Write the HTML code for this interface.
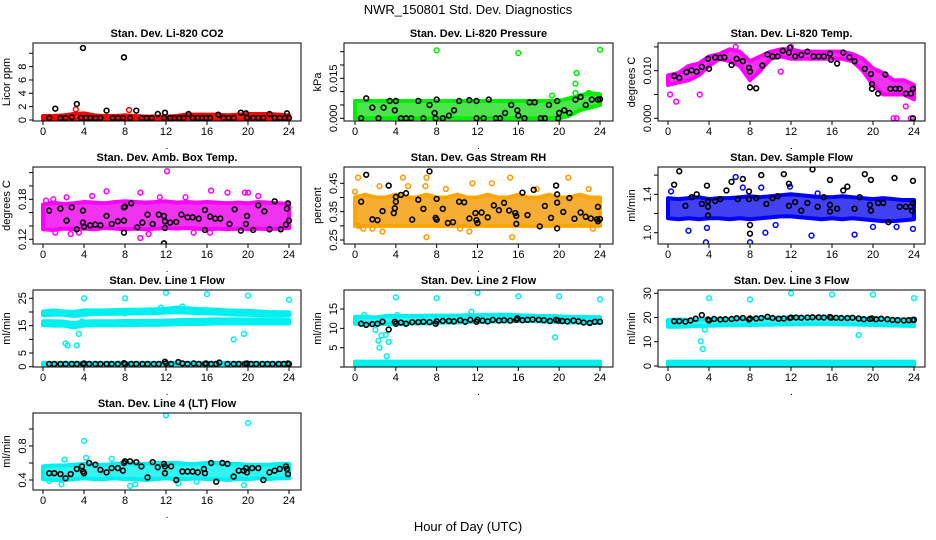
<!DOCTYPE html>
<html><head><meta charset="utf-8"><style>
html,body{margin:0;padding:0;background:#fff}
svg{display:block;font-family:"Liberation Sans",sans-serif}
</style></head><body>
<svg id="chart" width="936" height="540" viewBox="0 0 936 540" xmlns="http://www.w3.org/2000/svg">
<rect width="936" height="540" fill="#fff"/>
<text x="468" y="14" text-anchor="middle" font-size="13">NWR_150801  Std. Dev. Diagnostics</text>
<text x="468" y="531" text-anchor="middle" font-size="13">Hour of Day (UTC)</text>
</svg>
<script>
const bandHours=[0,1,2,3,4,5,6,7,8,9,10,11,12,13,14,15,16,17,18,19,20,21,22,23,24];
const xTicks=[0,4,8,12,16,20,24];
// CO2
const co2Lo=[0.1,0.1,0.1,0.1,0.1,0.1,0.1,0.1,0.1,0.1,0.1,0.1,0.1,0.1,0.1,0.1,0.1,0.1,0.1,0.1,0.1,0.1,0.1,0.1,0.1];
const co2Hi=[0.6,0.6,0.7,0.9,1.0,0.7,0.6,0.6,0.7,0.6,0.5,0.5,0.5,0.6,0.8,0.8,0.8,0.8,0.7,0.8,0.9,0.9,0.9,0.8,0.7];
const co2Out=[[8.4,1.5],[3.2,1.6]];
const co2Black=[[1.2,1.7],[3.3,2.4],[3.9,10.8],[7.9,9.4],[6.2,1.4],[9.1,1.4],[11.9,1.1],[11.2,0.9],[14.2,0.9],[17.1,0.8],[19.3,1.1],[19.8,1.0],[22.1,0.9],[23.8,1.0],[0.6,0.3],[1.7,0.3],[2.2,0.3],[2.8,0.4],[3.7,0.3],[4.2,0.3],[4.6,0.3],[5.1,0.3],[5.6,0.3],[6.8,0.3],[7.3,0.3],[7.8,0.3],[8.5,0.3],[9.6,0.3],[10.1,0.3],[10.6,0.3],[11.8,0.3],[12.4,0.3],[12.8,0.3],[13.3,0.3],[13.7,0.3],[14.6,0.3],[15.1,0.3],[15.5,0.3],[15.9,0.3],[16.3,0.3],[17.6,0.3],[18.1,0.3],[18.6,0.3],[19.9,0.3],[20.5,0.3],[21.0,0.3],[21.5,0.3],[22.6,0.3],[23.1,0.3],[23.6,0.3],[24.0,0.3]];
// Pressure
const prLo=[0,0,0,0,0,0,0,0,0,0,0,0,0,0,0,0,0,0,0,0,0,0.001,0.003,0.004,0.005];
const prHi=[0.0065,0.0065,0.0065,0.0065,0.0065,0.0065,0.0065,0.0065,0.0065,0.0065,0.0065,0.0065,0.0065,0.0065,0.0065,0.0065,0.0065,0.0065,0.0065,0.0065,0.0065,0.0075,0.0085,0.0095,0.009];
const prOut=[[8,0.0255],[16,0.0245],[24,0.0257],[21.7,0.017],[21.6,0.013],[21.6,0.0095],[19.3,0.0085],[22.9,0.0095]];
const prBlack=[[0.6,0],[1.1,0.0075],[1.7,0.004],[2.3,0],[2.8,0.004],[3.4,0.0065],[3.9,0.003],[4.0,0.0065],[4.5,0],[5.0,0],[5.5,0],[6.2,0.0065],[6.7,0],[7.3,0.005],[7.8,0.002],[7.9,0],[8.0,0.007],[8.6,0],[9.2,0.001],[9.7,0.003],[10.2,0.0065],[11.2,0.0068],[11.9,0.0065],[11.9,0],[12.6,0],[13.1,0.007],[13.8,0],[14.2,0],[14.7,0.002],[15.3,0.005],[15.9,0.003],[16.0,0.001],[16.6,0],[17.1,0.006],[17.6,0.006],[18.2,0],[18.6,0],[19.0,0.005],[19.8,0.0065],[19.9,0],[20.0,0.002],[20.5,0.003],[21.0,0.002],[21.6,0.007],[22.1,0.008],[22.6,0.005],[23.2,0.007],[23.8,0.007],[24.0,0.0072]];
// Li-820 temp
const ltLo=[0.007,0.0075,0.008,0.009,0.011,0.0125,0.012,0.011,0.008,0.010,0.0125,0.013,0.0125,0.0125,0.0125,0.0125,0.0125,0.0125,0.012,0.010,0.007,0.005,0.005,0.005,0.004];
const ltHi=[0.009,0.0095,0.011,0.0115,0.013,0.0135,0.0145,0.014,0.012,0.013,0.014,0.0145,0.0145,0.014,0.014,0.014,0.014,0.014,0.0135,0.0125,0.0105,0.0095,0.008,0.008,0.007];
const ltOut=[[0.2,0.005],[0.8,0.0035],[3.1,0.005],[11,0.0098],[22,0],[22.3,0],[23.7,0],[23.2,0.0025],[6.6,0.015],[12,0.015]];
const ltBlack=[[0.6,0.0089],[1.1,0.0085],[1.8,0.0097],[2.3,0.0101],[2.8,0.0098],[3.3,0.0108],[3.9,0.0125],[4.0,0.0104],[4.6,0.0128],[5.1,0.0127],[5.5,0.0128],[6.2,0.0112],[6.7,0.0125],[7.3,0.0120],[7.9,0.0106],[8.0,0.0098],[8.0,0.0065],[8.6,0.0063],[9.2,0.0111],[9.7,0.0134],[10.2,0.0130],[10.7,0.0130],[11.2,0.0142],[11.9,0.0148],[11.8,0.0138],[12.4,0.0130],[13.0,0.0133],[13.6,0.0140],[14.2,0.0130],[14.7,0.0130],[15.2,0.0130],[15.8,0.0136],[15.9,0.0123],[16.5,0.0115],[17.1,0.0138],[17.7,0.0128],[18.2,0.0120],[19.2,0.0104],[19.8,0.0093],[19.9,0.0072],[19.9,0.0062],[20.5,0.0052],[21.2,0.0092],[21.7,0.0062],[22.2,0.0062],[22.6,0.0062],[23.2,0.0052],[23.7,0.0052],[23.9,0.0062],[23.9,0.0]];
// Amb box temp
const abLo=[0.135,0.134,0.136,0.135,0.136,0.135,0.137,0.136,0.135,0.136,0.135,0.136,0.137,0.136,0.137,0.136,0.135,0.136,0.135,0.136,0.135,0.136,0.135,0.136,0.137];
const abHi=[0.172,0.175,0.173,0.174,0.176,0.175,0.174,0.176,0.177,0.176,0.175,0.176,0.177,0.175,0.176,0.175,0.176,0.175,0.174,0.175,0.174,0.176,0.175,0.174,0.173];
const abOut=[[0.3,0.178],[1.0,0.18],[2.3,0.183],[3.5,0.13],[6.2,0.192],[9.5,0.19],[12.1,0.222],[11.4,0.183],[16.4,0.193],[19.7,0.19],[20.0,0.19],[9.5,0.122],[10.3,0.128],[14.7,0.13],[1.2,0.13],[2.7,0.128],[16.3,0.13],[18.0,0.19],[21,0.185],[4.8,0.185],[13.9,0.183]];
const abBlack=[[0.6,0.163],[1.7,0.166],[2.3,0.148],[2.8,0.168],[3.3,0.135],[3.9,0.145],[3.9,0.163],[4.0,0.139],[4.6,0.141],[5.1,0.142],[5.6,0.141],[6.2,0.155],[6.7,0.143],[7.3,0.147],[7.9,0.148],[7.9,0.168],[8.0,0.169],[7.9,0.130],[8.6,0.174],[9.2,0.138],[9.7,0.145],[10.2,0.157],[10.7,0.143],[11.3,0.157],[11.8,0.155],[11.9,0.147],[11.9,0.137],[11.8,0.114],[12.4,0.145],[13.0,0.146],[13.5,0.157],[14.1,0.153],[14.6,0.153],[15.2,0.151],[15.8,0.134],[15.8,0.164],[16.3,0.154],[16.8,0.151],[17.3,0.151],[18.2,0.143],[18.7,0.165],[19.3,0.133],[19.8,0.143],[19.9,0.155],[20.5,0.134],[21,0.171],[21.6,0.162],[22.1,0.135],[22.6,0.177],[23.2,0.135],[23.7,0.142],[23.8,0.166],[23.9,0.174],[24,0.148]];
// Gas stream RH
const rhLo=[0.30,0.30,0.30,0.30,0.30,0.30,0.30,0.30,0.30,0.30,0.30,0.30,0.30,0.30,0.30,0.30,0.30,0.30,0.30,0.30,0.30,0.30,0.30,0.30,0.30];
const rhHi=[0.40,0.41,0.40,0.40,0.41,0.40,0.40,0.41,0.40,0.40,0.41,0.40,0.40,0.41,0.40,0.40,0.41,0.40,0.40,0.41,0.40,0.40,0.41,0.40,0.40];
const rhOut=[[0,0.42],[0.3,0.47],[0.3,0.30],[4.7,0.47],[7,0.47],[7,0.26],[11.5,0.45],[15.2,0.47],[15.4,0.26],[20.9,0.47],[13.4,0.45],[1.7,0.29],[2.7,0.28],[8.9,0.43],[17.8,0.43],[22.9,0.43],[0.8,0.29],[23.3,0.29],[10.3,0.29],[11.2,0.28],[6.9,0.44],[2.4,0.44],[5.2,0.44]];
const rhBlack=[[0.6,0.385],[1.1,0.48],[1.7,0.323],[2.2,0.320],[2.7,0.352],[3.3,0.442],[3.8,0.345],[3.9,0.362],[4.0,0.385],[4.0,0.402],[4.5,0.409],[5.0,0.415],[5.6,0.322],[6.2,0.392],[6.7,0.360],[7.3,0.492],[7.9,0.328],[8.0,0.322],[8.0,0.395],[8.6,0.360],[9.1,0.310],[9.6,0.313],[10.2,0.385],[10.7,0.383],[11.2,0.326],[11.8,0.345],[11.9,0.320],[12.0,0.310],[12.4,0.347],[13.0,0.330],[13.6,0.372],[14.1,0.355],[14.6,0.381],[15.1,0.354],[15.7,0.345],[15.8,0.335],[15.8,0.307],[16.4,0.417],[16.9,0.338],[17.5,0.427],[18.1,0.298],[18.6,0.370],[19.2,0.328],[19.8,0.382],[19.8,0.411],[19.7,0.442],[19.8,0.291],[20.4,0.349],[21.0,0.398],[21.5,0.325],[22.1,0.347],[22.6,0.332],[23.1,0.326],[23.7,0.323],[23.8,0.316],[23.8,0.367],[24,0.324]];
// Sample flow
const sfLo=[1.15,1.14,1.15,1.14,1.15,1.15,1.14,1.15,1.14,1.15,1.16,1.17,1.17,1.16,1.15,1.14,1.15,1.14,1.15,1.14,1.13,1.12,1.12,1.13,1.14];
const sfHi=[1.36,1.35,1.36,1.37,1.35,1.36,1.36,1.37,1.38,1.37,1.38,1.39,1.40,1.39,1.38,1.37,1.37,1.38,1.37,1.36,1.35,1.36,1.35,1.34,1.34];
const sfOut=[[0.3,1.43],[6.6,1.58],[11.9,1.48],[2,1.02],[3.7,0.90],[9.5,1.00],[8,0.90],[14,0.97],[18.2,0.98],[23.9,1.04],[10.5,1.08],[3.8,1.05],[7.3,1.47],[9.1,1.47],[14.6,1.41],[20,1.06],[22.3,1.06]];
const sfBlack=[[0.6,1.50],[1.1,1.64],[1.7,1.28],[2.3,1.37],[2.8,1.40],[3.3,1.30],[3.8,1.49],[3.9,1.33],[3.9,1.27],[3.9,1.18],[4.6,1.33],[5.1,1.35],[5.7,1.44],[6.2,1.53],[6.8,1.35],[7.3,1.56],[7.9,1.43],[7.9,1.35],[8.0,1.08],[8.0,0.99],[8.6,1.36],[9.1,1.60],[9.6,1.30],[10.2,1.36],[10.7,1.38],[11.3,1.61],[11.8,1.51],[11.8,1.28],[12.4,1.32],[13.0,1.23],[13.6,1.31],[14.1,1.66],[14.6,1.27],[15.2,1.37],[15.8,1.55],[15.8,1.22],[15.8,1.29],[16.5,1.25],[17.1,1.44],[17.5,1.48],[18.2,1.25],[18.7,1.37],[19.2,1.61],[19.8,1.55],[19.7,1.29],[19.8,1.23],[20.5,1.31],[21,1.31],[21.5,1.11],[22.1,1.57],[22.6,1.27],[23.2,1.27],[23.7,1.27],[23.8,1.23],[23.9,1.54],[23.9,1.31]];
// Line 1
const l1UpLo=[18.8,19.0,19.0,18.5,19.0,19.2,19.3,19.3,19.4,19.5,19.5,19.6,19.8,19.9,19.8,19.6,19.5,19.4,19.2,19.0,19.0,18.8,18.7,18.7,18.8];
const l1UpHi=[20.2,20.6,20.2,20.0,20.6,20.6,20.6,20.7,20.8,20.8,20.9,21.0,21.2,21.6,21.4,21.1,21.0,20.8,20.6,20.5,20.4,20.2,20.0,19.9,19.9];
const l1LoLo=[15.2,15.0,15.0,14.4,15.0,15.1,15.1,15.1,15.2,15.2,15.3,15.3,15.4,15.5,15.6,15.6,15.7,15.8,15.8,15.8,15.8,15.8,15.8,15.8,15.8];
const l1LoHi=[16.6,16.6,16.5,16.0,16.5,16.6,16.6,16.6,16.7,16.7,16.8,16.8,16.9,17.0,17.1,17.1,17.2,17.3,17.3,17.3,17.3,17.2,17.2,17.2,17.2];
const flowBotLo=[0.3,0.3,0.3,0.3,0.3,0.3,0.3,0.3,0.3,0.3,0.3,0.3,0.3,0.3,0.3,0.3,0.3,0.3,0.3,0.3,0.3,0.3,0.3,0.3,0.3];
const flowBotHi=[1.4,1.4,1.4,1.4,1.4,1.4,1.4,1.4,1.4,1.4,1.4,1.4,1.4,1.4,1.4,1.4,1.4,1.4,1.4,1.4,1.4,1.4,1.4,1.4,1.4];
const l1Out=[[4,25],[8,25],[12,27],[16,26.5],[20,26],[24,24.5],[2.2,8.5],[2.4,7.8],[3.3,7.8],[3.5,12],[3.8,16.5],[18.6,10],[19.6,12],[8,19.5],[13.6,22],[11.5,21.6]];
const l1Black=[[0.6,1.0],[1.1,1.0],[1.7,1.0],[2.2,1.0],[2.8,1.0],[3.3,1.0],[3.9,1.0],[4.0,1.2],[4.5,1.0],[5.1,1.0],[5.6,1.0],[6.2,1.0],[6.7,1.0],[7.3,1.0],[7.9,1.3],[8.0,1.0],[8.6,1.0],[9.1,1.0],[9.7,1.0],[10.2,1.0],[10.8,1.0],[11.3,1.0],[11.9,1.8],[12.0,1.2],[12.5,1.0],[13.2,1.7],[13.6,1.2],[14.1,1.0],[14.7,1.2],[15.2,1.0],[15.8,1.0],[15.9,1.2],[16.4,1.0],[16.9,1.0],[17.2,1.5],[18.0,1.0],[18.6,1.0],[19.1,1.0],[19.7,1.0],[19.9,1.2],[20.3,1.0],[20.8,1.0],[21.4,1.0],[21.9,1.0],[22.4,1.0],[23.0,1.0],[23.5,1.0],[23.9,1.2],[24.0,1.0]];
// Line 2
const l2Lo=[11.2,11.0,11.0,11.2,11.0,11.2,11.3,11.3,11.4,11.5,11.5,11.6,11.7,11.7,11.8,11.8,11.9,11.9,11.8,11.7,11.6,11.5,11.5,11.4,11.4];
const l2Hi=[13.0,13.0,12.8,13.2,13.2,13.2,13.2,13.3,13.3,13.3,13.3,13.4,13.4,13.5,13.5,13.5,13.4,13.3,13.2,13.2,13.1,13.0,13.0,12.9,12.9];
const l2Out=[[2,9.6],[2.3,6.8],[2.4,5],[2.6,8.2],[3.0,8.3],[3.3,6.5],[3.1,2.8],[4,18],[8,17.8],[12,19.2],[16,18.3],[20,18.3],[24,17.5],[19.6,7.7],[11.4,14.3],[0.9,13.5],[4.1,13.4]];
const l2Black=[[0.6,11.2],[1.1,10.9],[1.7,11.1],[2.2,11.2],[2.7,11.7],[3.3,9.7],[3.9,11.7],[4.0,11.2],[4.5,11.5],[5.0,11.2],[5.6,11.6],[6.2,11.6],[6.7,11.7],[7.3,11.6],[7.9,11.2],[8.0,11.8],[8.6,11.9],[9.2,11.9],[9.7,11.8],[10.3,12.1],[10.8,11.7],[11.3,12.2],[11.9,11.7],[12.0,12.2],[12.5,12.0],[13.0,11.8],[13.5,12.2],[14.1,12.0],[14.6,12.1],[15.2,12.0],[15.8,12.2],[15.9,12.6],[16.4,12.1],[16.9,12.2],[17.4,12.3],[18.0,12.2],[18.5,12.1],[19.1,11.9],[19.7,12.2],[19.9,12.0],[20.3,11.9],[20.8,11.8],[21.4,12.0],[21.9,11.8],[22.4,11.5],[23.0,11.4],[23.5,11.7],[24,11.7]];
// Line 3
const l3Lo=[16.2,16.2,16.3,16.5,16.6,16.7,16.8,16.8,16.9,17.0,17.0,17.1,17.2,17.2,17.3,17.3,17.3,17.2,17.1,17.0,16.9,16.8,16.7,16.6,16.5];
const l3Hi=[19.0,19.2,19.0,19.2,19.2,19.3,19.4,19.5,19.6,19.7,19.8,19.9,20.0,20.1,20.1,20.1,20.0,19.9,19.8,19.6,19.5,19.4,19.3,19.2,19.1];
const l3Out=[[4,28],[8,27.5],[12,30],[16,29.5],[20,29.5],[24,28],[3.2,10.2],[3.4,7],[3.6,15],[18.6,12.8]];
const l3Black=[[0.6,18.5],[1.1,18.5],[1.7,18.3],[2.2,18.8],[2.7,19.5],[3.3,21],[3.9,19.2],[4.0,18.8],[4.5,19.4],[5.1,19.2],[5.6,19.3],[6.2,19.4],[6.7,19.7],[7.3,19.8],[7.9,19.2],[8.0,19.6],[8.6,19.6],[9.1,19.8],[9.7,20.3],[10.2,19.8],[10.8,19.5],[11.3,19.6],[11.9,19.8],[12.0,20.0],[12.5,20.0],[13.0,19.9],[13.6,20.0],[14.1,20.1],[14.7,20.1],[15.2,20.0],[15.8,20.2],[15.9,19.9],[16.4,19.9],[16.9,19.8],[17.5,19.8],[18.0,19.9],[18.6,19.6],[19.1,19.3],[19.7,19.4],[19.9,19.6],[20.3,19.3],[20.8,19.5],[21.4,19.3],[21.9,19.0],[22.4,18.9],[23.0,18.8],[23.5,18.9],[23.9,19.0],[24.0,19.1]];
const l3BotHi=[1.8,1.8,1.8,1.8,1.8,1.8,1.8,1.8,1.8,1.8,1.8,1.8,1.8,1.8,1.8,1.8,1.8,1.8,1.8,1.8,1.8,1.8,1.8,1.8,1.8];
// Line 4
const l4Lo=[0.41,0.40,0.40,0.41,0.42,0.41,0.41,0.42,0.41,0.41,0.40,0.41,0.42,0.41,0.41,0.42,0.41,0.41,0.40,0.41,0.41,0.42,0.41,0.42,0.42];
const l4Hi=[0.56,0.57,0.57,0.58,0.59,0.58,0.58,0.59,0.60,0.59,0.59,0.60,0.60,0.60,0.59,0.59,0.60,0.60,0.59,0.59,0.58,0.58,0.58,0.59,0.59];
const l4Out=[[12,1.16],[20,1.07],[4,0.86],[8.5,0.33],[9.0,0.35],[13.2,0.36],[1.8,0.35],[19.6,0.34],[4.2,0.66],[6.7,0.65],[2.1,0.64],[0.6,0.39],[15,0.38]];
const l4Black=[[0.6,0.48],[1.1,0.48],[1.7,0.47],[2.2,0.42],[2.7,0.47],[3.3,0.53],[3.8,0.56],[3.9,0.50],[4.0,0.48],[4.5,0.60],[5.1,0.58],[5.6,0.52],[6.2,0.49],[6.7,0.54],[7.3,0.54],[7.8,0.51],[7.9,0.60],[8.0,0.62],[8.5,0.62],[9.1,0.61],[9.6,0.56],[10.2,0.43],[10.7,0.61],[11.2,0.55],[11.8,0.59],[11.9,0.56],[11.9,0.48],[12.5,0.56],[13.0,0.40],[13.6,0.50],[14.1,0.50],[14.6,0.50],[15.1,0.49],[15.7,0.53],[15.8,0.48],[16.4,0.60],[16.9,0.38],[17.5,0.60],[18.0,0.59],[18.6,0.44],[19.1,0.51],[19.6,0.51],[19.8,0.54],[19.9,0.49],[20.4,0.54],[21.0,0.54],[21.5,0.40],[22.1,0.49],[22.6,0.51],[23.1,0.53],[23.7,0.56],[23.8,0.53],[23.9,0.47]];

const NS='http://www.w3.org/2000/svg';
const svg=document.getElementById('chart');
function mk(tag,attrs,parent){const e=document.createElementNS(NS,tag);for(const k in attrs)e.setAttribute(k,attrs[k]);(parent||svg).appendChild(e);return e;}
const colL=[33,344,658],colR=[301,613,925],colX0=[43,355,668],colX24=[289,600,914];
const rowT=[43,167,290,413],rowB=[121,244,367,490];

function panel(key,c,r,title,ylab,yA,yB,yTicks,yLabels,bands,outPts,outColor,blackPts){
  const g=mk('g',{});
  
  
  const L=colL[c],R=colR[c],T=rowT[r],B=rowB[r];
  const xs=h=>colX0[c]+(colX24[c]-colX0[c])*h/24;
  const ys=v=>yA[1]+(v-yA[0])*(yB[1]-yA[1])/(yB[0]-yA[0]);
  const cp=mk('clipPath',{id:'cp'+key},g);mk('rect',{x:L,y:T,width:R-L,height:B-T},cp);
  const plot=mk('g',{'clip-path':'url(#cp'+key+')'},g);
  bands.forEach((b,bi)=>{
    let pts=bandHours.map((h,i)=>xs(h)+','+ys(b.hi[i]));
    pts=pts.concat(bandHours.slice().reverse().map((h,j)=>{const i=bandHours.length-1-j;return xs(h)+','+ys(b.lo[i]);}));
    const p=mk('polygon',{points:pts.join(' '),fill:b.fill,'fill-opacity':0.8,stroke:b.color,'stroke-width':4,'stroke-linejoin':'round'},plot);
    
    
  });
  outPts.forEach(pt=>{
    const e=mk('circle',{cx:xs(pt[0]),cy:ys(pt[1]),r:2.4,fill:'none',stroke:outColor,'stroke-width':1.5},plot);
    
    
  });
  blackPts.forEach(pt=>{
    const e=mk('circle',{cx:xs(pt[0]),cy:ys(pt[1]),r:2.4,fill:'none',stroke:'#000','stroke-width':1.6},plot);
    
    
  });
  mk('rect',{x:L,y:T,width:R-L,height:B-T,fill:'none',stroke:'#000','stroke-width':1},g);
  xTicks.forEach(t=>{
    const x=xs(t);
    mk('line',{x1:x,y1:B,x2:x,y2:B+4,stroke:'#000'},g);
    const tx=mk('text',{x:x,y:B+14,'text-anchor':'middle','font-size':11},g);tx.textContent=t;
    
    
  });
  yTicks.forEach(t=>{
    const y=ys(t);
    mk('line',{x1:L,y1:y,x2:L-4,y2:y,stroke:'#000'},g);
  });
  yLabels.forEach(t=>{
    const y=ys(parseFloat(t));
    const tx=mk('text',{x:L-7,y:y,'text-anchor':'middle','font-size':11,transform:'rotate(-90 '+(L-7)+' '+y+')'},g);tx.textContent=t;
    
    
  });
  const tt=mk('text',{x:(L+R)/2,y:T-6,'text-anchor':'middle','font-size':11,'font-weight':'bold'},g);tt.textContent=title;
  
  
  const yx=L-23,yy=(T+B)/2;
  const yl=mk('text',{x:yx,y:yy,'text-anchor':'middle','font-size':11,transform:'rotate(-90 '+yx+' '+yy+')'},g);yl.textContent=ylab;
  
  
  const dot=mk('text',{x:(L+R)/2,y:B+28,'text-anchor':'middle','font-size':10},g);dot.textContent='.';
}
const cy='#00f0f0';
panel('co2',0,0,'Stan. Dev. Li-820 CO2','Licor ppm',[0,120],[10,53.3],[0,2,4,6,8,10],['0','2','4','6','8'],[{lo:co2Lo,hi:co2Hi,fill:'#ff0000',color:'#ff0000'}],co2Out,'#ff0000',co2Black);
panel('pressure',1,0,'Stan. Dev. Li-820 Pressure','kPa',[0,118.3],[0.015,78.3],[0,0.005,0.01,0.015,0.02,0.025],['0.000','0.015'],[{lo:prLo,hi:prHi,fill:'#22dd22',color:'#00ee00'}],prOut,'#00ee00',prBlack);
panel('li820temp',2,0,'Stan. Dev. Li-820 Temp.','degrees C',[0,118.3],[0.010,70.7],[0,0.005,0.01,0.015],['0.000','0.010'],[{lo:ltLo,hi:ltHi,fill:'#ee00ee',color:'#ff00ff'}],ltOut,'#ff00ff',ltBlack);
panel('ambbox',0,1,'Stan. Dev. Amb. Box Temp.','degrees C',[0.12,239.3],[0.18,199.3],[0.12,0.14,0.16,0.18,0.2,0.22],['0.12','0.18'],[{lo:abLo,hi:abHi,fill:'#ee00ee',color:'#ff00ff'}],abOut,'#ff00ff',abBlack);
panel('rh',1,1,'Stan. Dev. Gas Stream RH','percent',[0.25,240],[0.45,183.3],[0.25,0.3,0.35,0.4,0.45],['0.25','0.35','0.45'],[{lo:rhLo,hi:rhHi,fill:'#f29a00',color:'#ffa500'}],rhOut,'#ff9900',rhBlack);
panel('sampleflow',2,1,'Stan. Dev. Sample Flow','ml/min',[1.0,232.7],[1.4,194.3],[1.0,1.2,1.4,1.6],['1.0','1.4'],[{lo:sfLo,hi:sfHi,fill:'#1111ee',color:'#0000ff'}],sfOut,'#0000ff',sfBlack);
panel('line1',0,2,'Stan. Dev. Line 1 Flow','ml/min',[0,366.7],[25,298.3],[0,5,10,15,20,25],['0','5','15','25'],[{lo:l1UpLo,hi:l1UpHi,fill:cy,color:cy},{lo:l1LoLo,hi:l1LoHi,fill:cy,color:cy},{lo:flowBotLo,hi:flowBotHi,fill:cy,color:cy}],l1Out,cy,l1Black);
panel('line2',1,2,'Stan. Dev. Line 2 Flow','ml/min',[5,347.7],[15,309],[0,5,10,15],['5','10','15'],[{lo:l2Lo,hi:l2Hi,fill:cy,color:cy},{lo:flowBotLo,hi:flowBotHi,fill:cy,color:cy}],l2Out,cy,l2Black);
panel('line3',2,2,'Stan. Dev. Line 3 Flow','ml/min',[0,366],[30,293.3],[0,10,20,30],['0','10','20','30'],[{lo:l3Lo,hi:l3Hi,fill:cy,color:cy},{lo:flowBotLo,hi:l3BotHi,fill:cy,color:cy}],l3Out,cy,l3Black);
panel('line4',0,3,'Stan. Dev. Line 4 (LT) Flow','ml/min',[0.4,480],[0.8,446],[0.4,0.6,0.8,1.0],['0.4','0.8'],[{lo:l4Lo,hi:l4Hi,fill:cy,color:cy}],l4Out,cy,l4Black);
</script>
</body></html>
